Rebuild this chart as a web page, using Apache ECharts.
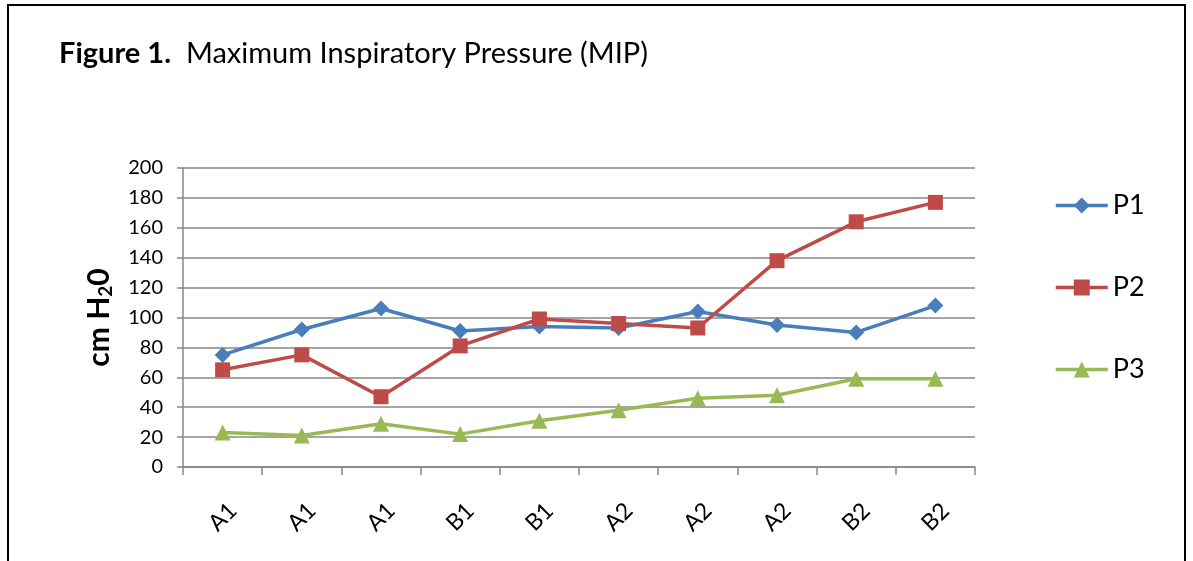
<!DOCTYPE html>
<html>
<head>
<meta charset="utf-8">
<script src="https://cdn.jsdelivr.net/npm/echarts@6/dist/echarts.min.js"></script>
<style>
  html, body { margin: 0; padding: 0; background: #fff; }
  #chart { width: 1193px; height: 561px; }
</style>
</head>
<body>
<div id="chart"></div>
<script>
// 数据
const categories = ['A1', 'A1', 'A1', 'B1', 'B1', 'A2', 'A2', 'A2', 'B2', 'B2'];
const p1 = [75, 92, 106, 91, 94, 93, 104, 95, 90, 108];
const p2 = [65, 75, 47, 81, 99, 96, 93, 138, 164, 177];
const p3 = [23, 21, 29, 22, 31, 38, 46, 48, 59, 59];

const font = 'Lato, "Open Sans", sans-serif';
const gray = '#878787';

const chart = echarts.init(document.getElementById('chart'));

function line(name, data, color, symbol, size) {
    return {
        name, type: 'line', data,
        symbol, symbolSize: size,
        lineStyle: { color, width: 3.5 },
        itemStyle: { color },
        animation: false
    };
}

chart.setOption({
    backgroundColor: '#fff',
    textStyle: { fontFamily: font },
    title: {
        left: 54, top: 34,
        text: '{b|Figure 1.}  Maximum Inspiratory Pressure (MIP)',
        textStyle: {
            fontFamily: font, fontSize: 29, fontWeight: 'normal', color: '#000',
            rich: { b: { fontFamily: font, fontSize: 29, fontWeight: 'bold', color: '#000' } }
        }
    },
    graphic: [{
        type: 'rect',
        shape: { x: 8, y: 5, width: 1177, height: 600 },
        style: { fill: 'none', stroke: '#000', lineWidth: 2 }
    }],
    legend: {
        orient: 'vertical',
        left: 1049, top: 187,
        itemWidth: 52, itemHeight: 20, itemGap: 55,
        lineStyle: { width: 3.5 },
        textStyle: { fontFamily: font, fontSize: 27, color: '#000' },
        data: ['P1', 'P2', 'P3']
    },
    grid: { left: 183, right: 218, top: 168, bottom: 94 },
    xAxis: {
        type: 'category',
        data: categories,
        boundaryGap: true,
        axisLine: { lineStyle: { color: gray, width: 1.5 } },
        axisTick: { show: true, length: 8, lineStyle: { color: gray, width: 1.5 } },
        axisLabel: {
            rotate: 45, align: 'center', verticalAlign: 'middle', margin: 50,
            fontFamily: font, fontSize: 23, color: '#000', interval: 0
        }
    },
    yAxis: {
        type: 'value',
        min: 0, max: 200, interval: 20,
        name: '{a|cm H}{s|2}{a|0}',
        nameLocation: 'middle',
        nameRotate: 90,
        nameGap: 68,
        nameTextStyle: {
            rich: {
                a: { fontFamily: font, fontSize: 30, fontWeight: 'bold', color: '#000' },
                s: { fontFamily: font, fontSize: 19, fontWeight: 'bold', color: '#000', padding: [12, 0, 0, 0] }
            }
        },
        axisLine: { show: true, lineStyle: { color: gray, width: 1.5 } },
        axisTick: { show: true, length: 6, lineStyle: { color: gray, width: 1.5 } },
        axisLabel: { fontFamily: font, fontSize: 20, color: '#000', margin: 20 },
        splitLine: { lineStyle: { color: gray, width: 1.5 } }
    },
    series: [
        line('P1', p1, '#4A7EBB', 'diamond', 16),
        line('P2', p2, '#BE4B48', 'rect', 15),
        line('P3', p3, '#98B954', 'triangle', 16)
    ]
});
</script>
</body>
</html>
